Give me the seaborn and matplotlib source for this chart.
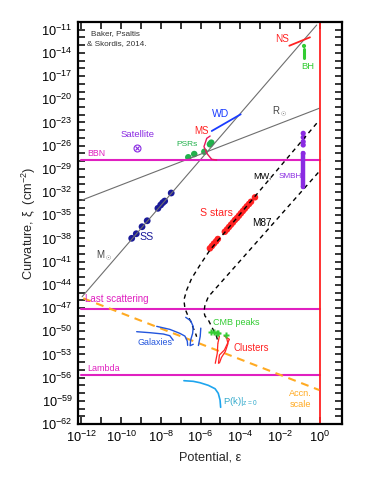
import numpy as np
import pandas as pd
import matplotlib
matplotlib.use('Agg')
import matplotlib.pyplot as plt
import seaborn as sns
from matplotlib.ticker import FixedLocator, FuncFormatter, NullLocator

# ---------------- data (log10 values) ----------------
steep_eps = [-11.97, -0.15]
steep_xi = [-45.54, -10.39]
rsun_eps = [-11.97, -0.02]
rsun_xi = [-33.03, -21.16]

hline_eps = [-12.0, 0.0]
bbn_xi = -27.85
lastscat_xi = -47.13
lambda_xi = -55.71

ss_eps = [-9.47, -9.24, -8.95, -8.69, -8.15, -8.01, -7.91, -7.81, -7.48]
ss_xi = [-37.98, -37.39, -36.48, -35.71, -34.10, -33.67, -33.38, -33.16, -32.12]

psr_eps = [-6.62, -6.32, -5.81, -5.53, -5.46]
psr_xi = [-27.5, -27.08, -26.78, -25.82, -25.61]

ms_eps = [-5.52, -5.69, -5.83, -5.66, -5.44, -5.19]
ms_xi = [-24.75, -25.05, -26.13, -27.08, -27.76, -27.85]

wd_eps = [-5.44, -3.98]
wd_xi = [-24.10, -21.94]

ns_eps = [-1.53, -0.49]
ns_xi = [-13.07, -11.98]

bh_eps = [-0.79, -0.79]
bh_xi = [-13.55, -14.62]
bh_dot_xi = -13.10

sat_eps = -9.19
sat_xi = -26.26

smbh_eps = -0.83
smbh_dots_xi = [-24.40, -24.92, -25.49, -25.91]
smbh_line_xi = [-26.99, -31.31]

mw_eps = [-0.15, -3.345, -5.53, -6.03, -6.45, -6.70, -6.84, -6.79, -6.62, -6.45, -6.37, -6.28, -6.20]
mw_xi = [-23.10, -32.81, -39.50, -41.44, -43.16, -44.67, -45.96, -47.04, -48.12, -48.98, -49.60, -50.06, -50.71]

m87_eps = [-0.07, -5.61, -5.78, -5.83, -5.78, -5.61, -5.44, -5.19, -5.11]
m87_xi = [-29.47, -45.54, -46.61, -47.52, -48.03, -48.55, -49.42, -50.71, -51.57]

sstar_eps = [-5.53, -5.43, -5.33, -5.22, -5.13, -4.78, -4.67, -4.57, -4.47, -4.37, -4.27,
             -4.17, -4.07, -3.97, -3.87, -3.77, -3.67, -3.56, -3.46, -3.26]
sstar_xi = [-39.28, -38.98, -38.67, -38.37, -38.07, -37.13, -36.83, -36.52, -36.22, -35.93, -35.61,
            -35.36, -35.06, -34.75, -34.45, -34.15, -33.84, -33.54, -33.25, -32.68]

accn_eps = [-11.91, -0.02]
accn_xi = [-45.74, -57.61]

pk_eps = [-6.84, -6.37, -6.03, -5.61, -5.27, -5.11, -5.02, -4.99]
pk_xi = [-56.40, -56.48, -56.66, -57.00, -57.44, -58.03, -58.90, -59.84]

gal1_eps = [-9.22, -8.55, -7.88, -7.55, -7.38]
gal1_xi = [-50.06, -50.19, -50.36, -50.58, -51.17]
gal2_eps = [-8.21, -7.55, -7.04, -6.79, -6.67, -6.65]
gal2_xi = [-49.37, -49.76, -50.28, -50.63, -51.27, -51.83]
gal3_eps = [-6.75, -6.50, -6.37, -6.40, -6.50, -6.53, -6.37]
gal3_xi = [-48.20, -48.64, -49.41, -50.27, -51.14, -51.87, -51.69]
gal4_eps = [-5.99, -6.02, -6.11]
gal4_xi = [-49.60, -50.68, -51.85]

cmb_eps = [-5.49, -5.33, -5.19, -5.11, -4.72]
cmb_xi = [-50.06, -50.14, -50.27, -50.19, -50.49]

cl1_eps = [-5.05, -5.13, -5.16, -5.26]
cl1_xi = [-50.62, -51.57, -52.86, -54.15]
cl2_eps = [-4.80, -4.55, -4.80, -5.05, -5.10]
cl2_xi = [-50.62, -51.05, -52.43, -53.07, -54.15]
cl3_eps = [-4.70, -4.62, -4.75, -4.95, -5.05]
cl3_xi = [-50.75, -51.60, -52.60, -53.40, -54.10]

x_tick_exp = list(range(-12, 1))
y_tick_exp = list(range(-62, -9))
y_label_exp = list(range(-62, -10, 3))

# ---------------- style ----------------
sns.set_theme(style='ticks')
plt.rcParams['font.family'] = ['Liberation Sans', 'DejaVu Sans']
plt.rcParams['mathtext.fontset'] = 'custom'
plt.rcParams['mathtext.rm'] = 'Liberation Sans'
plt.rcParams['mathtext.it'] = 'Liberation Sans:italic'
plt.rcParams['mathtext.sf'] = 'Liberation Sans'

RED = '#ff2222'
MAG = '#e020c0'
GREY = '#6e6e6e'
NAVY = '#1a1a99'
GREEN = '#22b14c'
LGREEN = '#33cc33'
BLUE = '#1a3cff'
PURPLE = '#8a2be2'
ORANGE = '#ffaa22'
GBLUE = '#2255dd'
SKY = '#1ea5ee'
TEAL = '#33aacc'

fig = plt.figure(figsize=(3.83, 4.95), dpi=100)
ax = fig.add_axes([78/383, 1-424/495, (342-78)/383, (424-22)/495])
ax.set_xscale('log')
ax.set_yscale('log')

P = lambda v: np.power(10.0, np.asarray(v, dtype=float))

def line(e, x, **kw):
    df = pd.DataFrame({'e': P(e), 'x': P(x)})
    sns.lineplot(data=df, x='e', y='x', sort=False, estimator=None, ax=ax, **kw)

# grey scaling lines
line(steep_eps, steep_xi, color=GREY, lw=0.8)
line(rsun_eps, rsun_xi, color=GREY, lw=0.8)

# horizontal magenta lines
for yv in (bbn_xi, lastscat_xi, lambda_xi):
    line(hline_eps, [yv, yv], color=MAG, lw=1.5)

# red vertical at eps = 1
ax.axvline(1.0, color=RED, lw=1.3)

# orange acceleration scale
line(accn_eps, accn_xi, color=ORANGE, lw=1.5, linestyle=(0, (3.8, 2.8)))

# dashed MW, M87
line(mw_eps, mw_xi, color='black', lw=1.0, linestyle=(0, (3.2, 2.8)))
line(m87_eps, m87_xi, color='black', lw=1.0, linestyle=(0, (3.2, 2.8)))

# S stars
sns.scatterplot(x=P(sstar_eps), y=P(sstar_xi), color=RED, s=22, edgecolor='none', ax=ax)

# Solar system
sns.scatterplot(x=P(ss_eps), y=P(ss_xi), color=NAVY, s=24, edgecolor='none', ax=ax)

# PSRs
sns.scatterplot(x=P(psr_eps), y=P(psr_xi), color=GREEN, s=22, edgecolor='none', ax=ax)

# MS curve
line(ms_eps, ms_xi, color='#e8175d', lw=1.0)

# WD, NS
line(wd_eps, wd_xi, color=BLUE, lw=1.3)
line(ns_eps, ns_xi, color=RED, lw=1.3)

# BH
line(bh_eps, bh_xi, color=LGREEN, lw=2.2)
sns.scatterplot(x=[P(bh_eps[0])], y=[P(bh_dot_xi)], color=LGREEN, s=9, edgecolor='none', ax=ax)

# Satellite
ax.plot([P(sat_eps)], [P(sat_xi)], marker='o', ms=5, mfc='none', mec=PURPLE, mew=0.8)
ax.plot([P(sat_eps)], [P(sat_xi)], marker='x', ms=3, mec=PURPLE, mew=0.8)

# SMBH
line([smbh_eps, smbh_eps], smbh_line_xi, color=PURPLE, lw=3.2)
line([smbh_eps, smbh_eps], [smbh_dots_xi[0], smbh_dots_xi[-1]], color=PURPLE, lw=1.5)
sns.scatterplot(x=P([smbh_eps]*len(smbh_dots_xi)), y=P(smbh_dots_xi), color=PURPLE, s=14, edgecolor='none', ax=ax)
sns.scatterplot(x=P([smbh_eps]*2), y=P(smbh_line_xi), color=PURPLE, s=12, edgecolor='none', ax=ax)

# galaxies
for ge, gx in ((gal1_eps, gal1_xi), (gal2_eps, gal2_xi), (gal3_eps, gal3_xi), (gal4_eps, gal4_xi)):
    line(ge, gx, color=GBLUE, lw=1.0)

# clusters
for ce, cx in ((cl1_eps, cl1_xi), (cl2_eps, cl2_xi), (cl3_eps, cl3_xi)):
    line(ce, cx, color=RED, lw=0.9)

# CMB peaks
ax.plot(P(cmb_eps), P(cmb_xi), ls='none', marker='P', ms=5, color=LGREEN, mec='none')

# P(k)
line(pk_eps, pk_xi, color=SKY, lw=1.2)

# ---------------- text ----------------
def txt(e, x, s, color, size, ha='center', **kw):
    ax.text(P(e), P(x), s, color=color, fontsize=size, ha=ha, va='center', **kw)

txt(-11.54, -11.51, 'Baker, Psaltis', '#333333', 5.9, ha='left')
txt(-11.71, -12.81, '& Skordis, 2014.', '#333333', 5.9, ha='left')
txt(-1.91, -12.20, 'NS', RED, 7.2)
txt(-0.62, -15.78, 'BH', LGREEN, 6.8)
txt(-4.99, -21.94, 'WD', BLUE, 7.5)
txt(-2.40, -21.64, r'R$_\odot$', '#444444', 7.0, ha='left')
txt(-5.94, -24.06, 'MS', RED, 7.0)
txt(-9.19, -24.53, 'Satellite', PURPLE, 6.8)
txt(-6.70, -25.91, 'PSRs', GREEN, 6.0)
txt(-11.71, -26.99, 'BBN', MAG, 6.3, ha='left')
txt(-2.88, -30.01, 'MW,', 'black', 6.6)
txt(-1.50, -30.01, 'SMBH', PURPLE, 5.9)
txt(-5.19, -34.67, 'S stars', RED, 7.6)
txt(-2.92, -35.96, 'M87', 'black', 7.2)
txt(-8.72, -37.77, 'SS', NAVY, 7.6)
txt(-11.27, -40.27, r'M$_\odot$', '#444444', 7.0, ha='left')
txt(-11.82, -45.83, 'Last scattering', MAG, 7.0, ha='left')
txt(-5.36, -48.90, 'CMB peaks', LGREEN, 6.5, ha='left')
txt(-8.30, -51.49, 'Galaxies', GBLUE, 6.4)
txt(-4.35, -52.13, 'Clusters', RED, 6.9, ha='left')
txt(-11.71, -54.85, 'Lambda', MAG, 6.5, ha='left')
txt(-0.99, -58.75, 'Accn.\nscale', ORANGE, 6.6, multialignment='center', linespacing=1.25)
txt(-4.89, -59.12, r'P(k)|$_{\mathrm{z=0}}$', TEAL, 6.8, ha='left')

# ---------------- axes ----------------
ax.set_xlim(10**-12.176, 10**1.124)
ax.set_ylim(1e-62, 1e-10)
ax.xaxis.set_major_locator(FixedLocator([10.0**k for k in x_tick_exp]))
ax.yaxis.set_major_locator(FixedLocator([10.0**k for k in y_tick_exp]))
ax.xaxis.set_minor_locator(NullLocator())
ax.yaxis.set_minor_locator(NullLocator())

def fx(v, pos):
    k = int(round(np.log10(v)))
    return r'$10^{%d}$' % k if k % 2 == 0 else ''

def fy(v, pos):
    k = int(round(np.log10(v)))
    return r'$10^{%d}$' % k if k in y_label_exp else ''

ax.xaxis.set_major_formatter(FuncFormatter(fx))
ax.yaxis.set_major_formatter(FuncFormatter(fy))
ax.tick_params(direction='in', length=5, width=1.1, top=True, right=True,
               labelsize=9.2, colors='black', pad=4)
for sp in ax.spines.values():
    sp.set_linewidth(1.6)
    sp.set_color('black')

ax.set_xlabel('Potential, ε', fontsize=9.2, labelpad=5)
ax.set_ylabel(r'Curvature, ξ  (cm$^{-2}$)', fontsize=9.2, labelpad=2)
ax.grid(False)
ax.set_facecolor('white')
fig.patch.set_facecolor('white')

fig.savefig('out.png', dpi=100)
